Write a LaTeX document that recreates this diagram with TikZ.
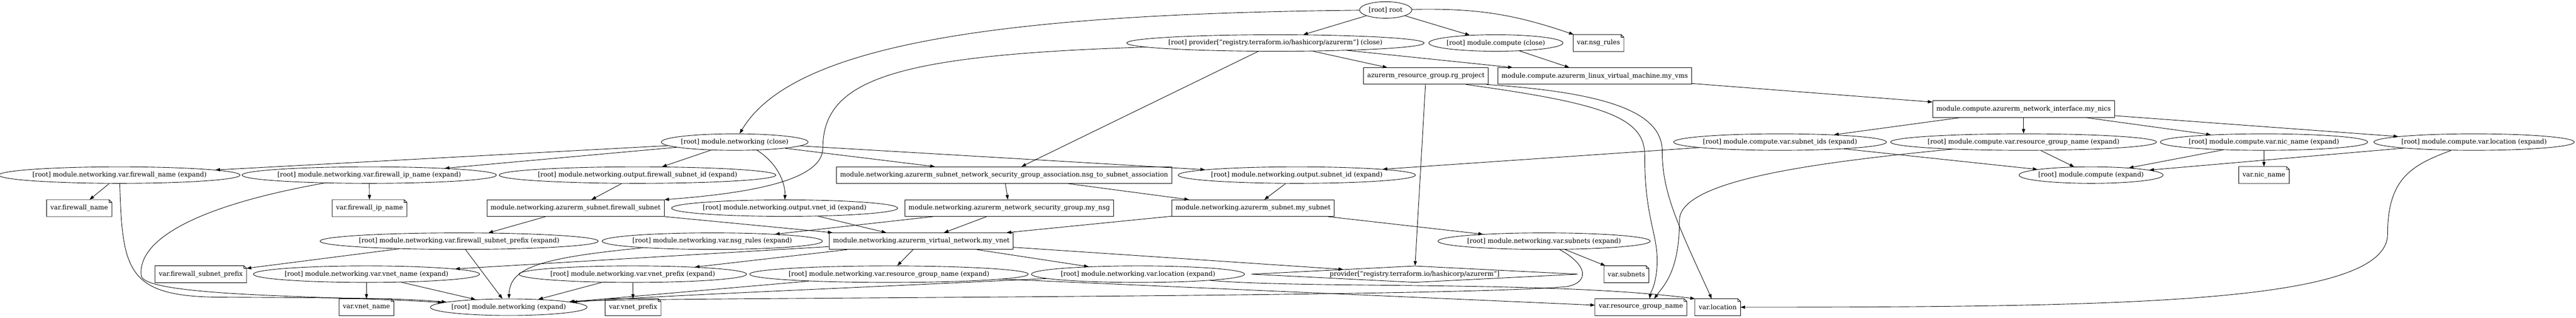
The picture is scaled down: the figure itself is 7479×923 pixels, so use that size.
\documentclass[tikz,border=0pt]{standalone}
\usepackage{fontspec}
\setmainfont{DejaVu Serif}
\usetikzlibrary{arrows.meta,shapes.geometric}

\begin{document}
\begin{tikzpicture}[x=0.75pt, y=-0.75pt,
        every node/.style={font=\fontsize{14}{16.8}\selectfont, line width=1pt},
        tfnode/.style={ellipse, draw, inner xsep=-4pt, inner ysep=0pt, minimum height=36pt},
        resbox/.style={rectangle, draw, inner xsep=7.92pt, minimum width=54pt, minimum height=36pt},
        varnote/.style={rectangle, inner xsep=7.92pt, minimum width=54pt, minimum height=36pt,
            append after command={\pgfextra{\draw[line width=1pt] (\tikzlastnode.south west) -- (\tikzlastnode.north west)
                -- ([xshift=-6pt]\tikzlastnode.north east) -- ([yshift=-6pt]\tikzlastnode.north east)
                -- (\tikzlastnode.south east) -- cycle
                ([xshift=-6pt]\tikzlastnode.north east) |- ([yshift=-6pt]\tikzlastnode.north east);}}},
        provdiamond/.style={diamond, draw, aspect=19.75, inner sep=0pt, minimum width=711pt, minimum height=36pt},
        dep/.style={-{Triangle[length=10pt,width=7pt]}, line width=1pt}]
        \useasboundingbox (0,0) rectangle (7479,923);

        \node[tfnode, minimum width=114pt] (root) at (4023,29) {[root] root};

        \node[tfnode] (provclose) at (3703,125) {[root] provider["registry.terraform.io/hashicorp/azurerm"] (close)};
        \node[tfnode] (compclose) at (4343,125) {[root] module.compute (close)};
        \node[varnote] (vnsg) at (4641,125) {var.nsg\_rules};

        \node[resbox] (rg) at (4140,221) {azurerm\_resource\_group.rg\_project};
        \node[resbox] (vms) at (4630,221) {module.compute.azurerm\_linux\_virtual\_machine.my\_vms};

        \node[resbox] (nics) at (5875,317) {module.compute.azurerm\_network\_interface.my\_nics};

        \node[tfnode] (netclose) at (2133,413) {[root] module.networking (close)};
        \node[tfnode] (csubids) at (5168,413) {[root] module.compute.var.subnet\_ids (expand)};
        \node[tfnode] (crg) at (5875,413) {[root] module.compute.var.resource\_group\_name (expand)};
        \node[tfnode] (cnic) at (6573,413) {[root] module.compute.var.nic\_name (expand)};
        \node[tfnode] (cloc) at (7183,413) {[root] module.compute.var.location (expand)};

        \node[tfnode] (nfwname) at (347,509) {[root] module.networking.var.firewall\_name (expand)};
        \node[tfnode] (nfwip) at (1072,509) {[root] module.networking.var.firewall\_ip\_name (expand)};
        \node[tfnode] (noutfw) at (1851,509) {[root] module.networking.output.firewall\_subnet\_id (expand)};
        \node[resbox] (assoc) at (2915,509) {module.networking.azurerm\_subnet\_network\_security\_group\_association.nsg\_to\_subnet\_association};
        \node[tfnode] (noutsub) at (3765,509) {[root] module.networking.output.subnet\_id (expand)};
        \node[tfnode] (cexpand) at (6071,509) {[root] module.compute (expand)};
        \node[varnote] (vnic) at (6573,509) {var.nic\_name};

        \node[varnote] (vfwname) at (230,605) {var.firewall\_name};
        \node[varnote] (vfwip) at (1073,605) {var.firewall\_ip\_name};
        \node[resbox] (fwsub) at (1671,605) {module.networking.azurerm\_subnet.firewall\_subnet};
        \node[tfnode] (noutvnet) at (2278,605) {[root] module.networking.output.vnet\_id (expand)};
        \node[resbox] (nsg) at (2930,605) {module.networking.azurerm\_network\_security\_group.my\_nsg};
        \node[resbox] (sub) at (3638,605) {module.networking.azurerm\_subnet.my\_subnet};

        \node[tfnode] (nfwprefix) at (1333,701) {[root] module.networking.var.firewall\_subnet\_prefix (expand)};
        \node[tfnode] (nnsgrules) at (2068,701) {[root] module.networking.var.nsg\_rules (expand)};
        \node[resbox] (vnet) at (2675,701) {module.networking.azurerm\_virtual\_network.my\_vnet};
        \node[tfnode] (nsubnets) at (4483,701) {[root] module.networking.var.subnets (expand)};

        \node[varnote] (vfwprefix) at (583,797) {var.firewall\_subnet\_prefix};
        \node[tfnode] (nvnetname) at (1064,797) {[root] module.networking.var.vnet\_name (expand)};
        \node[tfnode] (nvnetprefix) at (1837,797) {[root] module.networking.var.vnet\_prefix (expand)};
        \node[tfnode] (nrg) at (2581,797) {[root] module.networking.var.resource\_group\_name (expand)};
        \node[tfnode] (nloc) at (3304,797) {[root] module.networking.var.location (expand)};
        \node[provdiamond] (prov) at (4107,797) {provider["registry.terraform.io/hashicorp/azurerm"]};
        \node[varnote] (vsubnets) at (4722,797) {var.subnets};

        \node[varnote] (vvnetname) at (1064,893) {var.vnet\_name};
        \node[tfnode] (nexpand) at (1477,893) {[root] module.networking (expand)};
        \node[varnote] (vvnetprefix) at (1838,893) {var.vnet\_prefix};
        \node[varnote] (vrg) at (4764,893) {var.resource\_group\_name};
        \node[varnote] (vloc) at (4987,893) {var.location};

        \draw[dep] (root) .. controls (2900,40) and (2300,130) .. (netclose);
        \draw[dep] (root) -- (provclose);
        \draw[dep] (root) -- (compclose);
        \draw[dep] (root) to[bend left=10] (vnsg);

        \draw[dep] (provclose) -- (rg);
        \draw[dep] (provclose) -- (vms);
        \draw[dep] (provclose) -- (assoc);
        \draw[dep] (provclose) .. controls (2600,160) and (2389,230) .. (2389,430)
            .. controls (2389,520) and (2200,560) .. (fwsub.north east);
        \draw[dep] (compclose) -- (vms);

        \draw[dep] (rg) -- (prov);
        \draw[dep] (rg.-12) .. controls (4650,300) and (4775,340) .. (4775,450)
            .. controls (4775,640) and (4815,680) .. (4811,770)
            .. controls (4808,830) and (4792,850) .. ([xshift=19pt]vrg.north);
        \draw[dep] (rg.-8) .. controls (4680,270) and (4826,330) .. (4826,440)
            .. controls (4826,560) and (4870,650) .. ([xshift=-13pt]vloc.north);
        \draw[dep] (vms) -- (nics);

        \draw[dep] (nics) -- (csubids);
        \draw[dep] (nics) -- (crg);
        \draw[dep] (nics) -- (cnic);
        \draw[dep] (nics) -- (cloc);
        \draw[dep] (csubids) -- (cexpand);
        \draw[dep] (csubids) -- (noutsub);
        \draw[dep] (crg) -- (cexpand);
        \draw[dep] (crg) .. controls (5300,470) and (4876,520) .. (4876,640)
            .. controls (4876,790) and (4830,830) .. ([xshift=29pt]vrg.north);
        \draw[dep] (cnic) -- (cexpand);
        \draw[dep] (cnic) -- (vnic);
        \draw[dep] (cloc) -- (cexpand);
        \draw[dep] (cloc) .. controls (7000,480) and (6932,520) .. (6932,680)
            .. controls (6932,880) and (6200,893) .. (vloc);

        \draw[dep] (netclose) -- (nfwname);
        \draw[dep] (netclose) -- (nfwip);
        \draw[dep] (netclose) -- (noutfw);
        \draw[dep] (netclose.-20) .. controls (2265,480) and (2280,540) .. (noutvnet);
        \draw[dep] (netclose) -- (assoc);
        \draw[dep] (netclose) -- (noutsub);

        \draw[dep] (nfwname) -- (vfwname);
        \draw[dep] (nfwname) .. controls (355,790) and (370,862) .. (640,864)
            .. controls (1000,866) and (1150,866) .. (nexpand);
        \draw[dep] (nfwip) -- (vfwip);
        \draw[dep] (nfwip) .. controls (560,600) and (400,700) .. (410,800)
            .. controls (410,865) and (1000,860) .. (nexpand);
        \draw[dep] (noutfw) -- (fwsub);
        \draw[dep] (assoc) -- (nsg);
        \draw[dep] (assoc) -- (sub);
        \draw[dep] (noutsub) -- (sub);

        \draw[dep] (fwsub) -- (nfwprefix);
        \draw[dep] (fwsub) -- (vnet);
        \draw[dep] (noutvnet) -- (vnet);
        \draw[dep] (nsg) -- (nnsgrules);
        \draw[dep] (nsg) -- (vnet);
        \draw[dep] (sub) -- (vnet);
        \draw[dep] (sub) -- (nsubnets);

        \draw[dep] (nfwprefix) -- (vfwprefix);
        \draw[dep] (nfwprefix) -- (nexpand);
        \draw[dep] (nnsgrules) .. controls (1560,750) and (1480,780) .. (nexpand);
        \draw[dep] (vnet) -- (nvnetname);
        \draw[dep] (vnet) -- (nvnetprefix);
        \draw[dep] (vnet) -- (nrg);
        \draw[dep] (vnet) -- (nloc);
        \draw[dep] (vnet) -- (prov);
        \draw[dep] (nsubnets) -- (vsubnets);
        \draw[dep] (nsubnets) .. controls (4610,770) and (4615,820) .. (4550,833)
            .. controls (4200,866) and (1800,864) .. (nexpand);

        \draw[dep] (nvnetname) -- (vvnetname);
        \draw[dep] (nvnetname) -- (nexpand);
        \draw[dep] (nvnetprefix) -- (nexpand);
        \draw[dep] (nvnetprefix) -- (vvnetprefix);
        \draw[dep] (nrg) -- (nexpand);
        \draw[dep] (nrg) -- (vrg);
        \draw[dep] (nloc) .. controls (2300,845) and (1900,860) .. (nexpand);
        \draw[dep] (nloc) .. controls (3800,840) and (4500,815) .. (vloc.north west);
    \end{tikzpicture}
\end{document}
